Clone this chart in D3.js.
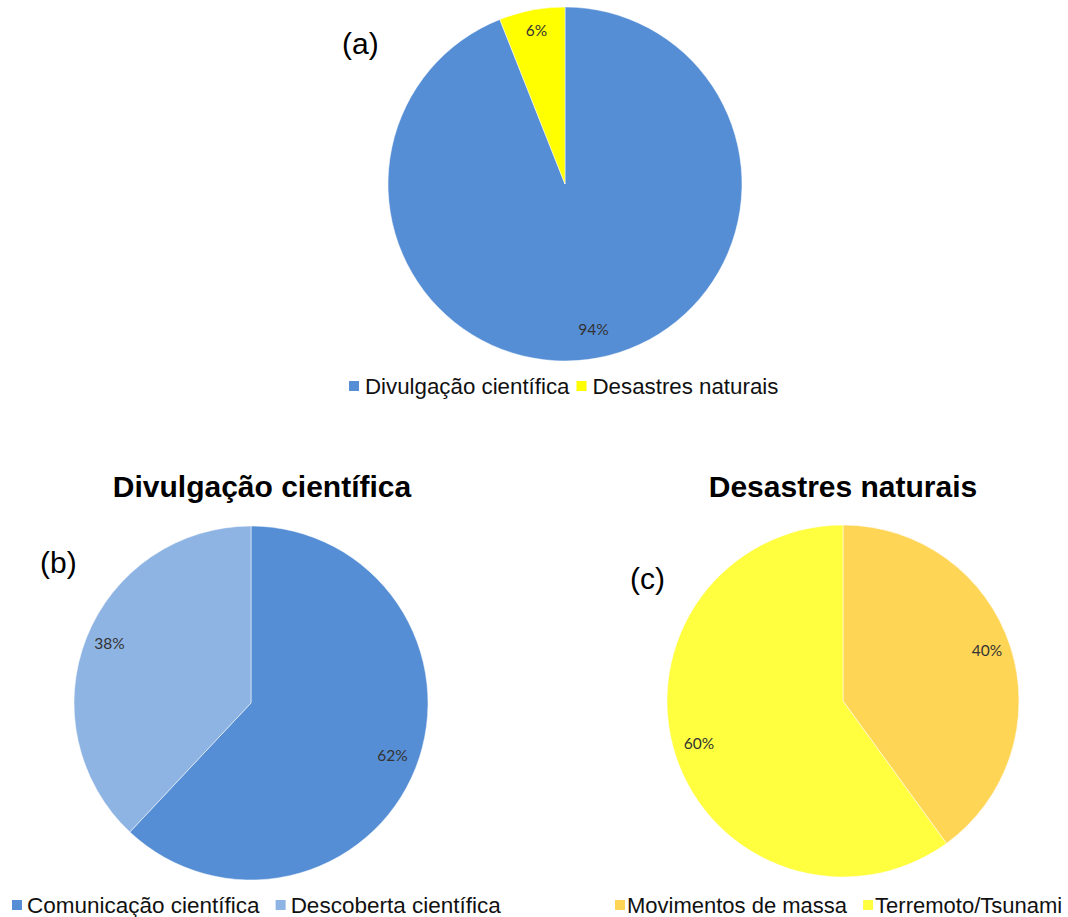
<!DOCTYPE html>
<html>
<head>
<meta charset="utf-8">
<script src="https://cdn.jsdelivr.net/npm/d3@7"></script>
<style>
  body { margin: 0; background: #fff; }
  svg { display: block; }
</style>
</head>
<body>
<div id="chart"></div>
<script>
// data
const catsA = ["Divulgação científica", "Desastres naturais"];
const valsA = [94, 6];
const catsB = ["Comunicação científica", "Descoberta científica"];
const valsB = [62, 38];
const catsC = ["Movimentos de massa", "Terremoto/Tsunami"];
const valsC = [40, 60];

const W = 1068, H = 917;
const svg = d3.select("#chart").append("svg")
    .attr("width", W)
    .attr("height", H);

const labelFont = "Lato, 'Open Sans', sans-serif";
const mainFont = "'Liberation Sans', Arial, sans-serif";

// one pie with its legend
const drawPie = (cfg) => {
    const pie = d3.pie().sort(null).value(d => d.v);
    const rows = cfg.cats.map((c, i) => ({ c: c, v: cfg.vals[i] }));
    const arcs = pie(rows);
    const arc = d3.arc().innerRadius(0).outerRadius(cfg.r);
    const lab = d3.arc().innerRadius(cfg.r * cfg.lr).outerRadius(cfg.r * cfg.lr);

    const g = svg.append("g")
        .attr("transform", "translate(" + cfg.cx + "," + cfg.cy + ")");

    g.selectAll("path")
        .data(arcs)
        .enter()
        .append("path")
        .attr("d", arc)
        .style("fill", (d, i) => cfg.colors[i])
        .style("stroke", "#fff")
        .style("stroke-width", 0.5);

    g.selectAll("text")
        .data(arcs)
        .enter()
        .append("text")
        .attr("transform", d => "translate(" + lab.centroid(d) + ")")
        .attr("text-anchor", "middle")
        .attr("dy", "0.1em")
        .attr("font-family", labelFont)
        .attr("font-size", "15.5px")
        .attr("fill", "#333")
        .text(d => d.data.v + "%");

    // legend
    const lg = svg.append("g")
        .attr("transform", "translate(" + cfg.legX + "," + cfg.legY + ")");
    let xPos = 0;
    cfg.cats.forEach((c, i) => {
        lg.append("rect")
            .attr("x", xPos)
            .attr("y", -5)
            .attr("width", 10)
            .attr("height", 10)
            .attr("fill", cfg.colors[i]);
        const t = lg.append("text")
            .attr("x", xPos + cfg.textOff)
            .attr("y", 0)
            .attr("dy", "0.35em")
            .attr("font-family", mainFont)
            .attr("font-size", cfg.legSize + "px")
            .attr("fill", "#111")
            .text(c);
        xPos += cfg.textOff + t.node().getComputedTextLength() + cfg.gap;
    });

    if (cfg.title) {
        svg.append("text")
            .attr("x", cfg.titleX)
            .attr("y", cfg.titleY)
            .attr("text-anchor", "middle")
            .attr("font-family", mainFont)
            .attr("font-weight", "bold")
            .attr("font-size", "30px")
            .attr("fill", "#000")
            .text(cfg.title);
    }

    svg.append("text")
        .attr("x", cfg.tagX)
        .attr("y", cfg.tagY)
        .attr("font-family", mainFont)
        .attr("font-size", "30px")
        .attr("fill", "#000")
        .text(cfg.tag);
};

drawPie({
    cats: catsA, vals: valsA,
    colors: ["#558ed5", "#ffff00"],
    cx: 565, cy: 184, r: 177, lr: 0.86,
    legX: 349, legY: 386, textOff: 16, gap: 7, legSize: 22.3,
    tag: "(a)", tagX: 342, tagY: 54
});

drawPie({
    cats: catsB, vals: valsB,
    colors: ["#558ed5", "#8eb4e3"],
    cx: 251, cy: 703, r: 177, lr: 0.86,
    legX: 12, legY: 905, textOff: 15, gap: 16, legSize: 22.5,
    title: "Divulgação científica", titleX: 262, titleY: 497,
    tag: "(b)", tagX: 40, tagY: 573
});

drawPie({
    cats: catsC, vals: valsC,
    colors: ["#ffd556", "#ffff40"],
    cx: 843, cy: 701, r: 176, lr: 0.86,
    legX: 615, legY: 905, textOff: 12, gap: 16, legSize: 22,
    title: "Desastres naturais", titleX: 843, titleY: 497,
    tag: "(c)", tagX: 630, tagY: 589
});
</script>
</body>
</html>
